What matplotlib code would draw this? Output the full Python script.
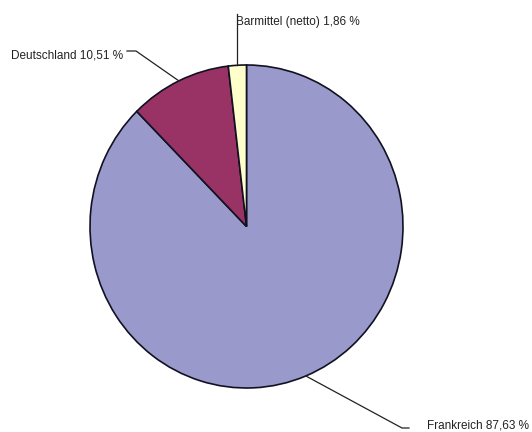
import numpy as np
import matplotlib.pyplot as plt
from matplotlib.lines import Line2D

# Verteilung der Anlagen nach Ländern
labels = ["Frankreich", "Deutschland", "Barmittel (netto)"]
shares = [87.63, 10.51, 1.86]
colors = ["#9999cc", "#993366", "#ffffcc"]

W, H = 532, 432
fig = plt.figure(figsize=(W / 100, H / 100), dpi=100)
plt.rcParams['font.family'] = ['Liberation Sans', 'DejaVu Sans']
FS = 8.5

# pie area in pixels (left, bottom, width, height)
ax = fig.add_axes([90 / W, 44 / H, 313 / W, 323 / H])
wedges, _ = ax.pie(shares, colors=colors, startangle=90, counterclock=False,
                   radius=1.0, wedgeprops=dict(edgecolor="#111122", linewidth=1.2))
ax.set_aspect('auto')
ax.set_xlim(-1, 1)
ax.set_ylim(-1, 1)

def px(x, y):
    # figure pixels (origin top-left) -> figure fraction
    return x / W, 1 - y / H

def edge_point(w):
    ang = np.deg2rad((w.theta1 + w.theta2) / 2)
    xd, yd = ax.transData.transform((np.cos(ang), np.sin(ang)))
    return xd, H - yd

def leader(points):
    xs, ys = zip(*[px(x, y) for x, y in points])
    fig.add_artist(Line2D(xs, ys, color="#222222", lw=0.9))

def fmt(v):
    return f"{v:.2f}".replace(".", ",") + " %"

# Frankreich
x0, y0 = edge_point(wedges[0])
leader([(x0, y0), (402, 428), (409, 428)])
fig.text(*px(427, 425), f"{labels[0]} {fmt(shares[0])}", fontsize=FS,
         ha="left", va="center", color="#222222")

# Deutschland
x0, y0 = edge_point(wedges[1])
leader([(x0, y0), (136, 51), (127, 51)])
fig.text(*px(123, 55), f"{labels[1]} {fmt(shares[1])}", fontsize=FS,
         ha="right", va="center", color="#222222")

# Barmittel
x0, y0 = edge_point(wedges[2])
leader([(x0, y0), (x0, 14)])
fig.text(*px(236, 22), f"{labels[2]} {fmt(shares[2])}", fontsize=FS,
         ha="left", va="center", color="#222222")

fig.savefig("out.png", dpi=100)
